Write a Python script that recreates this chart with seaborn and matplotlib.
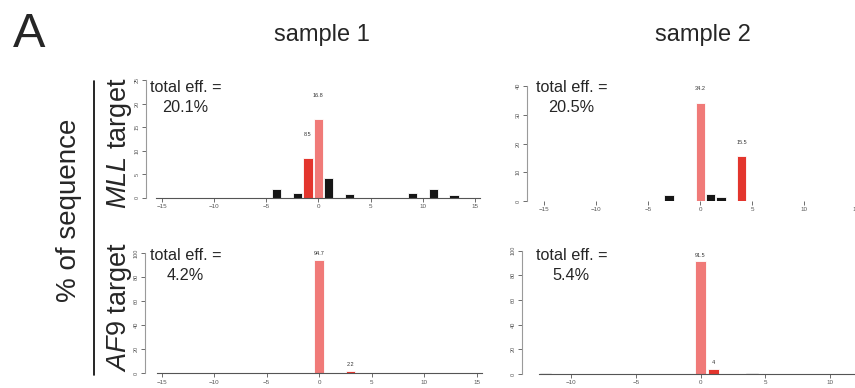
import matplotlib
matplotlib.use("Agg")
import pandas as pd
import matplotlib.pyplot as plt
import seaborn as sns
from matplotlib.lines import Line2D

sns.set_style("white")
plt.rcParams["font.family"] = ["Liberation Sans", "DejaVu Sans"]
plt.rcParams["mathtext.fontset"] = "custom"
plt.rcParams["mathtext.it"] = "Liberation Sans:italic"
plt.rcParams["mathtext.rm"] = "Liberation Sans"

W, H = 855, 388

# indel position (bp) vs % of sequence reads
mll_s1_pos = [-4, -2, -1, 0, 1, 3, 9, 11, 13]
mll_s1_pct = [1.8, 0.9, 8.5, 16.8, 4.1, 0.85, 1.05, 1.8, 0.6]
mll_s1_kind = ["other", "other", "main", "ref", "other", "other", "other", "other", "other"]

mll_s2_pos = [-3, 0, 1, 2, 4]
mll_s2_pct = [2.1, 34.2, 2.5, 1.4, 15.5]
mll_s2_kind = ["other", "ref", "other", "other", "main"]

af9_s1_pos = [-9, -3, -1, 0, 3, 8, 9, 12, 15]
af9_s1_pct = [0.3, 0.3, 0.2, 94.7, 2.2, 0.4, 0.2, 0.2, 0.2]
af9_s1_kind = ["other", "other", "other", "ref", "main", "other", "other", "other", "other"]

af9_s2_pos = [-12, -7, -2, 0, 1, 4]
af9_s2_pct = [0.5, 0.2, 0.3, 91.5, 4.0, 0.8]
af9_s2_kind = ["other", "other", "other", "ref", "main", "other"]

total_eff = ["20.1%", "20.5%", "4.2%", "5.4%"]
samples = ["sample 1", "sample 2"]

colors = {"ref": "#F07A78", "main": "#E3352D", "other": "#161616"}

fig = plt.figure(figsize=(W / 100, H / 100), dpi=100)


def px_axes(left, right, top, bottom):
    return fig.add_axes([left / W, 1 - bottom / H, (right - left) / W, (bottom - top) / H])


panels = [
    # data, axes box (px), xlim, ymax, ystep, xticks, baseline bounds, text x, text y
    (mll_s1_pos, mll_s1_pct, mll_s1_kind, (146, 490.7, 80, 197.7), 16.5, 25, 5,
     range(-15, 16, 5), (-15.5, 15.5), 186, 92),
    (mll_s2_pos, mll_s2_pct, mll_s2_kind, (526.7, 873.7, 86, 201), 16.7, 40, 10,
     range(-15, 16, 5), None, 572, 92),
    (af9_s1_pos, af9_s1_pct, af9_s1_kind, (145, 493.3, 253.3, 373.3), 16.6, 100, 20,
     range(-15, 16, 5), (-15.5, 15.5), 186, 260),
    (af9_s2_pos, af9_s2_pct, af9_s2_kind, (521.7, 879.3, 250.7, 374), 13.83, 100, 20,
     range(-10, 11, 5), (-12.5, 13.83), 572, 260),
]

for i, (pos, pct, kind, box, xl, ymax, ystep, xt, bounds, tx, ty) in enumerate(panels):
    ax = px_axes(*box)
    df = pd.DataFrame({"pos": pos, "pct": pct, "kind": kind})
    sns.barplot(data=df, x="pos", y="pct", hue="kind", palette=colors,
                native_scale=True, dodge=False, width=0.9, errorbar=None,
                saturation=1, edgecolor="white", linewidth=0.6, legend=False, ax=ax)
    for p, v, k in zip(pos, pct, kind):
        if k != "other":
            ax.text(p, v + 5, f"{v:g}", ha="center", va="center",
                    fontsize=4, color="#333333", clip_on=False)
    ax.set_xlim(-xl, xl)
    ax.set_ylim(0, ymax)
    ax.set_xticks(list(xt))
    ax.set_yticks(range(0, ymax + 1, ystep))
    ax.set_xlabel("")
    ax.set_ylabel("")
    ax.tick_params(axis="both", direction="out", length=3, width=0.6,
                   colors="#555555", pad=1.5)
    ax.tick_params(axis="x", labelsize=4.5, bottom=True)
    ax.tick_params(axis="y", labelsize=4, left=True, labelrotation=90)
    for lab in ax.get_yticklabels():
        lab.set_va("center")
    ax.spines[["top", "right"]].set_visible(False)
    ax.spines["left"].set_bounds(0, ymax)
    ax.spines["left"].set_color("#9a9a9a")
    ax.spines["left"].set_linewidth(0.8)
    if bounds is None:
        ax.spines["bottom"].set_visible(False)
    else:
        ax.spines["bottom"].set_bounds(*bounds)
        ax.spines["bottom"].set_color("#555555")
        ax.spines["bottom"].set_linewidth(0.8)
    ax.patch.set_alpha(0)

    fig.text(tx / W, 1 - ty / H, "total eff. =", fontsize=11.7, ha="center", va="baseline")
    fig.text((tx - 1) / W, 1 - (ty + 20) / H, total_eff[i], fontsize=11.7,
             ha="center", va="baseline")

fig.text(12.5 / W, 1 - 46.7 / H, "A", fontsize=35, ha="left", va="baseline")
fig.text(322 / W, 1 - 41.5 / H, samples[0], fontsize=17, ha="center", va="baseline")
fig.text(703 / W, 1 - 41 / H, samples[1], fontsize=17, ha="center", va="baseline")

fig.text(69 / W, 1 - 210 / H, "% of sequence", fontsize=20, rotation=90,
         ha="center", va="center")
fig.text(119 / W, 1 - 143 / H, r"$\mathit{MLL}$ target", fontsize=19.5, rotation=90,
         ha="center", va="center")
fig.text(119 / W, 1 - 307.5 / H, r"$\mathit{AF9}$ target", fontsize=19.5, rotation=90,
         ha="center", va="center")
fig.add_artist(Line2D([94 / W, 94 / W], [1 - 81 / H, 1 - 375 / H],
                      color="black", linewidth=1.2))

fig.savefig("out.png", dpi=100)
plt.close(fig)
